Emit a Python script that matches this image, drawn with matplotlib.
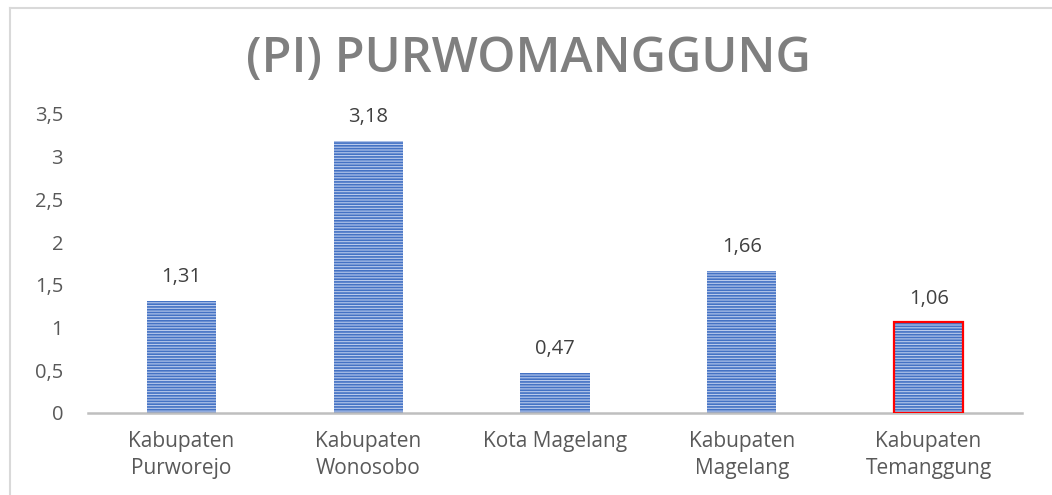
import matplotlib
matplotlib.use("Agg")
import matplotlib.pyplot as plt
from matplotlib.patches import Rectangle
from matplotlib.lines import Line2D

categories = ["Kabupaten\nPurworejo", "Kabupaten\nWonosobo", "Kota Magelang",
              "Kabupaten\nMagelang", "Kabupaten\nTemanggung"]
values = [1.31, 3.18, 0.47, 1.66, 1.06]
value_labels = ["1,31", "3,18", "0,47", "1,66", "1,06"]
yticks = [0, 0.5, 1, 1.5, 2, 2.5, 3, 3.5]
ytick_labels = ["0", "0,5", "1", "1,5", "2", "2,5", "3", "3,5"]
title = "(PI) PURWOMANGGUNG"

plt.rcParams['font.family'] = ['Open Sans', 'DejaVu Sans']
plt.rcParams['hatch.linewidth'] = 1.2
plt.rcParams['hatch.color'] = '#4472c4'

fig = plt.figure(figsize=(10.52, 4.95), dpi=100)
ax = fig.add_axes([0.0837, 0.1657, 0.8878, 0.604])

x = list(range(len(categories)))
bars = ax.bar(x, values, width=0.37, color='#b9caec', hatch='------',
              edgecolor='#4472c4', linewidth=0)
# highlight last bar with red border
hl = Rectangle((bars[-1].get_x(), 0), bars[-1].get_width(), values[-1],
               fill=False, edgecolor='#ff0000', linewidth=1.6, zorder=3)
ax.add_patch(hl)

for xi, v, lab in zip(x, values, value_labels):
    ax.annotate(lab, (xi, v), xytext=(0, 10), textcoords='offset points',
                ha='center', va='bottom', fontsize=14.5, color='#404040')

ax.set_xlim(-0.5, 4.5)
ax.set_ylim(0, 3.5)
ax.set_yticks(yticks)
ax.set_yticklabels(ytick_labels, fontsize=14.5, color='#595959')
ax.set_xticks(x)
ax.set_xticklabels(categories, fontsize=15, color='#595959', linespacing=1.35)
ax.tick_params(axis='both', length=0)
ax.tick_params(axis='y', pad=18)
ax.tick_params(axis='x', pad=13)
for s in ['top', 'right', 'left']:
    ax.spines[s].set_visible(False)
ax.spines['bottom'].set_color('#bfbfbf')
ax.spines['bottom'].set_linewidth(1.8)

fig.text(0.502, 1 - 72/495, title, ha='center', va='baseline', fontsize=35,
         fontweight='semibold', color='#7f7f7f')

# outer chart border (top and left visible)
fig.add_artist(Line2D([10/1052, 1.0], [1 - 8/495, 1 - 8/495],
                      transform=fig.transFigure, color='#d9d9d9', linewidth=1.5))
fig.add_artist(Line2D([10/1052, 10/1052], [0, 1 - 8/495],
                      transform=fig.transFigure, color='#d9d9d9', linewidth=1.5))

fig.savefig("out.png", dpi=100)
